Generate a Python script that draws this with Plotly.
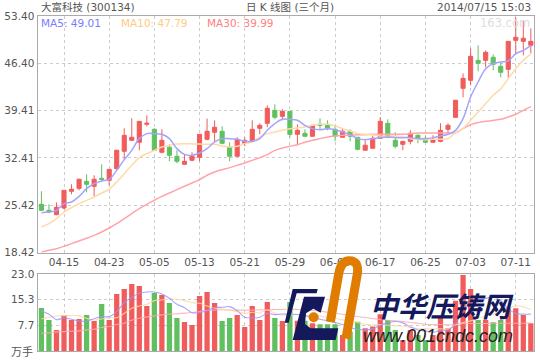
import plotly.graph_objects as go

dates = ["04-10","04-11","04-14","04-15","04-16","04-17","04-18","04-21","04-22","04-23","04-24","04-25","04-28","04-29","04-30",
"05-05","05-06","05-07","05-08","05-09","05-12","05-13","05-14","05-15","05-16","05-19","05-20","05-21","05-22","05-23","05-26","05-27","05-28","05-29","05-30",
"06-03","06-04","06-05","06-06","06-09","06-10","06-11","06-12","06-13","06-16","06-17","06-18","06-19","06-20","06-23","06-24","06-25","06-26","06-27","06-30",
"07-01","07-02","07-03","07-04","07-07","07-08","07-09","07-10","07-11","07-14","07-15"]
open_ = [25.55,24.66,24.02,25.0,27.47,27.91,28.95,28.21,29.39,29.10,30.82,33.39,35.01,34.72,37.38,36.64,33.24,33.98,32.65,31.46,32.06,32.50,
35.16,36.2,36.35,33.98,32.65,34.57,34.87,36.79,37.53,39.45,38.56,39.30,35.90,36.05,35.61,37.38,37.38,36.64,35.46,36.35,35.46,33.54,33.83,35.31,
37.53,35.01,34.42,34.86,35.75,35.31,34.72,34.86,36.64,38.41,42.70,43.89,46.84,46.84,47.29,45.96,45.51,49.80,49.65,49.06]
close = [24.66,24.41,25.10,27.62,27.77,29.25,28.51,29.25,29.25,30.72,33.54,35.75,35.46,37.82,37.53,33.54,35.01,32.80,31.91,31.91,32.65,35.90,
36.35,36.94,34.57,32.65,35.16,35.01,36.64,37.23,39.75,38.42,39.30,35.90,36.49,35.61,37.23,37.23,36.79,35.61,36.35,35.61,33.68,34.28,35.31,37.82,
35.46,34.13,34.86,36.05,35.31,34.72,35.16,36.49,37.23,40.93,44.18,47.44,46.40,48.03,46.25,45.07,49.65,50.25,50.10,49.65]
high = [27.47,25.55,25.84,27.62,28.51,29.34,29.99,29.84,31.46,30.72,33.63,36.79,38.27,37.82,38.71,36.79,36.64,34.42,33.54,32.94,33.24,35.90,
38.22,37.97,37.09,34.72,35.46,35.46,37.97,37.53,40.19,40.34,39.6,39.30,37.38,36.64,37.23,38.27,37.97,37.23,36.79,36.64,35.46,35.0,35.75,38.46,
38.12,36.2,34.86,36.49,35.9,35.75,35.75,37.53,37.53,41.0,44.92,48.62,49.06,48.32,47.73,46.55,49.65,53.2,52.76,51.58]
low = [24.56,24.22,23.92,24.81,27.03,27.62,27.32,26.73,28.95,28.36,30.68,32.2,35.01,33.54,37.09,33.54,33.09,31.91,31.61,31.46,31.91,31.91,
35.01,34.72,34.42,31.91,32.65,34.13,34.87,35.90,36.94,38.12,37.97,35.46,34.28,35.46,35.61,36.64,36.49,34.87,35.46,34.87,33.53,33.54,33.83,35.31,
35.31,33.83,33.53,34.42,34.57,34.72,34.72,34.72,36.05,38.4,41.37,43.15,45.22,45.81,45.37,44.33,44.18,47.73,47.58,47.88]
ma5 = [24.31,24.41,24.66,25.64,25.89,26.73,27.86,28.6,29.0,29.24,30.57,32.15,33.53,35.26,36.0,36.0,35.9,35.26,33.78,32.94,32.79,33.14,33.78,34.77,35.26,35.26,35.16,34.86,34.86,35.26,36.5,
37.48,38.12,38.12,37.97,37.23,36.74,36.59,36.74,36.59,36.25,35.85,35.26,35.11,35.26,35.41,35.5,35.41,35.41,35.41,35.26,35.26,35.41,35.65,35.9,36.49,38.22,41.42,43.64,45.61,46.35,46.6,46.75,47.83,48.32,49.01]
ma10 = [22.19,22.69,23.43,24.41,25.05,25.64,26.14,26.63,27.22,27.77,28.85,30.08,31.31,32.45,33.04,33.53,34.03,34.27,34.47,34.52,34.47,34.47,34.42,34.42,34.17,34.03,34.12,34.52,34.77,35.5,36.0,36.25,36.5,36.74,36.84,36.99,37.23,37.38,37.38,37.13,36.74,36.4,36.0,35.9,35.85,35.65,35.6,35.6,35.5,35.26,35.1,35.1,35.16,35.16,35.26,36.15,36.74,37.97,39.2,40.44,41.67,42.65,44.13,45.61,46.84,47.79]
ma30 = [18.45,18.74,18.99,19.33,19.73,20.12,20.52,20.96,21.45,22.05,22.69,23.43,24.17,24.91,25.55,26.14,26.73,27.22,27.72,28.21,28.7,29.2,29.84,30.33,30.67,30.97,31.31,31.66,32.05,32.45,32.89,33.53,33.88,34.12,34.37,34.72,35.01,35.26,35.5,35.65,35.75,35.75,35.85,35.85,35.9,35.9,35.9,35.9,35.9,36.0,36.1,36.1,36.1,36.1,36.1,36.15,36.74,37.33,37.63,37.82,37.97,38.12,38.46,38.86,39.45,39.99]
volume = [12.85,9.26,6.27,10.76,9.26,9.56,10.76,8.96,14.04,9.26,17.03,18.53,20.02,19.42,13.45,17.33,16.73,14.34,9.86,8.67,7.77,16.43,17.63,14.34,8.96,9.86,10.76,7.17,13.45,9.26,14.64,9.86,8.96,14.64,
9.0,9.0,8.27,8.0,8.0,8.0,4.78,5.78,8.76,6.77,7.3,11.0,9.26,6.27,3.29,6.27,4.78,3.29,4.78,10.26,6.77,15.04,22.7,18.5,9.26,9.26,8.57,9.26,12.75,12.75,10.76,8.27]
vol_ma5 = [12.05,10.96,9.36,9.86,9.46,8.96,8.96,9.66,10.26,10.26,11.75,14.44,16.04,17.23,17.63,17.63,17.03,15.74,13.94,12.95,11.45,11.45,12.05,12.95,13.05,13.25,12.05,10.06,9.86,10.06,11.25,10.86,11.06,
11.0,10.9,10.5,10.2,9.5,9.0,8.5,7.9,7.0,6.5,6.3,6.6,7.7,8.4,8.8,8.4,7.2,6.3,6.0,5.6,6.2,6.3,8.0,12.6,14.2,15.5,15.7,16.2,15.0,12.6,11.2,11.0,11.0]
vol_ma10 = [9.56,10.06,10.46,10.56,10.56,10.56,9.76,9.26,9.56,9.96,9.96,11.25,12.75,13.45,13.94,15.04,15.24,15.54,15.44,15.04,14.44,14.24,13.45,12.75,12.55,12.25,11.75,11.25,11.55,11.45,12.25,11.25,10.76,
10.8,10.9,10.7,10.4,10.4,10.0,9.7,9.3,9.0,8.5,8.0,7.8,7.9,7.7,7.5,7.4,7.0,6.7,6.6,6.6,6.6,6.6,7.8,8.5,9.0,9.8,10.4,11.0,11.8,12.6,13.5,13.2,12.3]
vol_ma30 = [5.3,5.4,5.7,5.8,5.9,6.0,6.3,6.5,7.0,7.3,7.9,8.3,9.2,9.8,10.2,10.5,10.8,11.0,11.1,11.3,11.5,11.8,12.1,12.2,12.3,12.2,12.2,12.2,12.2,12.3,12.3,12.4,12.4,
12.5,12.4,12.3,12.1,11.9,11.6,11.3,11.0,10.6,10.3,10.0,9.7,9.4,9.2,9.0,8.8,8.5,8.3,8.0,7.9,7.9,7.8,7.9,8.2,8.2,8.2,8.2,8.3,8.3,8.3,8.3,8.3,8.4]
price_ticks = [53.40,46.40,39.41,32.41,25.42,18.42]
price_labels = ["53.40","46.40","39.41","32.41","25.42","18.42"]
vol_ticks = [23.0,15.33,7.67]
vol_labels = ["23.0","15.3","7.7"]
date_ticks = dates[3::6]

RED, GREEN = "#F05C5C", "#60C060"
W, H = 540, 360
FONT = "DejaVu Sans"
fig = go.Figure()
for s, c in ((ma30, "#FFA4A8"), (ma10, "#FFDAA8"), (ma5, "#A4A4FF")):
    fig.add_trace(go.Scatter(x=dates, y=s, mode="lines", line=dict(color=c, width=1.5, shape="spline"), xaxis="x", yaxis="y", hoverinfo="skip"))
fig.add_trace(go.Candlestick(x=dates, open=open_, high=high, low=low, close=close, whiskerwidth=0,
    increasing=dict(line=dict(color=RED, width=1), fillcolor=RED),
    decreasing=dict(line=dict(color=GREEN, width=1), fillcolor=GREEN), xaxis="x", yaxis="y"))
fig.add_trace(go.Bar(x=dates, y=volume, width=0.7, marker=dict(color=[RED if c >= o else GREEN for o, c in zip(open_, close)], line_width=0), xaxis="x2", yaxis="y2"))
for s, c in ((vol_ma30, "rgba(255,170,175,0.85)"), (vol_ma10, "rgba(255,215,160,0.85)"), (vol_ma5, "rgba(150,150,255,0.85)")):
    fig.add_trace(go.Scatter(x=dates, y=s, mode="lines", line=dict(color=c, width=1.1, shape="spline"), xaxis="x2", yaxis="y2", hoverinfo="skip"))

def px(x): return x / W
def py(y): return 1 - y / H
def poly(pts, color):
    d = "M" + " L".join(f"{px(270+a/3):.4f},{py(250+b/3):.4f}" for a, b in pts) + " Z"
    return dict(type="path", xref="paper", yref="paper", path=d, fillcolor=color, line_width=0, layer="above")
def P(a, b): return f"{px(270+a/3):.4f},{py(250+b/3):.4f}"

NAVY, ORANGE = "#14195C", "#E07C00"
shapes = [
    poly([(68,117),(143,117),(140,130),(80,130),(56,218),(44,218)], NAVY),
    poly([(102,140),(165,140),(152,188),(130,176),(108,190),(105,222),(122,235),(205,235),(197,270),(68,270)], NAVY),
    dict(type="circle", xref="paper", yref="paper", x0=px(270+116/3), x1=px(270+146/3), y0=py(250+217/3), y1=py(250+187/3), fillcolor=ORANGE, line_width=0, layer="above"),
    dict(type="path", xref="paper", yref="paper", layer="above", line=dict(color=ORANGE, width=9),
         path=f"M{P(181,216)} L{P(206,72)} Q{P(213,32)} {P(238,32)} Q{P(268,32)} {P(262,72)} L{P(228,266)}"),
]

def note(x, y, text, color, size=10.5, anchor="left", font=FONT):
    return dict(x=px(x), y=py(y), xref="paper", yref="paper", text=text, showarrow=False, xanchor=anchor, yanchor="middle",
                font=dict(family=font, size=size, color=color))
notes = [
    note(39, 7, "大富科技 (300134)", "#555555", 10.5, font="DejaVu Sans, Noto Sans CJK SC"),
    note(290, 7, "日 K 线图 (三个月)", "#555555", 10.5, "center", font="DejaVu Sans, Noto Sans CJK SC"),
    note(533, 7, "2014/07/15 15:03", "#555555", 10.5, "right"),
    note(39, 23, "MA5: 49.01", "#7B7BFF", 10.5),
    note(119, 23, "MA10: 47.79", "#FFCB80", 10.5),
    note(205, 23, "MA30: 39.99", "#FF8080", 10.5),
    note(532, 23, "163.com", "#DDDDDD", 11.5, "right"),
    note(35, 351, "万手", "#555555", 11, "right", font="Noto Sans CJK SC"),
    note(442, 305, "<b><i>中华压铸网</i></b>", NAVY, 28, "center", font="Noto Sans CJK SC"),
    note(438, 336, "<i>www.001cndc.com</i>", "#222222", 18, "center", font="Liberation Sans"),
]

GRID = "#CCCCCC"
xrange = [-0.52, 65.42]
xbase = dict(type="category", categoryorder="array", categoryarray=dates, domain=[px(37.5), px(534)], range=xrange, automargin=False,
             showgrid=True, gridcolor=GRID, griddash="3px,3px", gridwidth=1, tickmode="array", tickvals=date_ticks,
             showline=True, mirror=True, linecolor="#AAAAAA", linewidth=1, ticks="", zeroline=False, rangeslider=dict(visible=False),
             tickfont=dict(family=FONT, size=10.5, color="#555555"))
ybase = dict(showgrid=True, gridcolor=GRID, griddash="3px,3px", gridwidth=1, showline=True, mirror=True, linecolor="#AAAAAA", linewidth=1, automargin=False,
             ticks="", zeroline=False, tickfont=dict(family=FONT, size=10.5, color="#555555"), tickmode="array")
fig.update_layout(
    template="none",
    width=W, height=H, margin=dict(l=0, r=0, t=0, b=0, pad=0), paper_bgcolor="white", plot_bgcolor="white", showlegend=False, boxgap=0.22,
    xaxis=dict(xbase, anchor="y", ticktext=date_ticks),
    xaxis2=dict(xbase, anchor="y2", showticklabels=False, matches="x"),
    yaxis=dict(ybase, domain=[py(252.5), py(16)], range=[18.42, 53.40], tickvals=price_ticks, ticktext=price_labels, anchor="x"),
    yaxis2=dict(ybase, domain=[py(351), py(274)], range=[0, 23], tickvals=vol_ticks, ticktext=vol_labels, anchor="x2"),
    shapes=shapes, annotations=notes,
)
fig.write_html("out.html", config={"displayModeBar": False}, post_script="document.body.style.margin='0';document.body.style.overflow='hidden';")
